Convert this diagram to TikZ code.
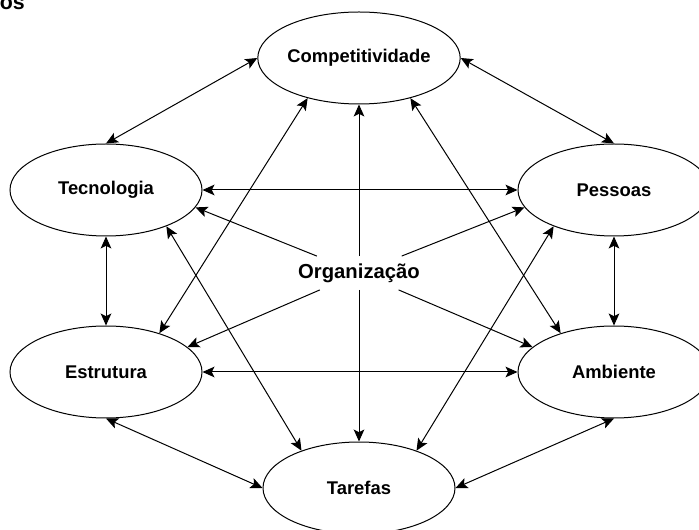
\documentclass[tikz,border=0pt]{standalone}
\usepackage{fontspec}
\setmainfont{Liberation Sans}
\usetikzlibrary{arrows.meta,shapes.geometric}

\begin{document}
\begin{tikzpicture}[x=0.75pt, y=-0.75pt,
  >={Stealth[length=9pt,width=8pt,inset=2pt]},
  elip/.style  ={draw, ellipse, line width=.75pt, minimum width=144pt,
                 minimum height=69pt, inner sep=0pt,
                 font=\fontsize{13.8}{16}\selectfont\bfseries},
  centro/.style={inner sep=2pt, minimum height=25pt,
                 font=\fontsize{15.2}{18}\selectfont\bfseries},
  lig/.style   ={<->, line width=.75pt},
  sai/.style   ={->, line width=.75pt}]

  \useasboundingbox (0,0) rectangle (699,530);

  % --- title fragment ----------------------------------------------------
  \node[anchor=base east, inner sep=0pt,
        font=\fontsize{16}{18}\selectfont\bfseries] (titulo) at (25, 10) {os};

  % --- factors -----------------------------------------------------------
  \node[elip] (comp) at (359,  58) {Competitividade};
  \node[elip] (tec)  at (106, 190) {Tecnologia};
  \node[elip] (pes)  at (614, 190) {Pessoas};
  \node[elip] (est)  at (106, 372) {Estrutura};
  \node[elip] (amb)  at (614, 372) {Ambiente};
  \node[elip] (tar)  at (359, 488) {Tarefas};

  % --- centre ------------------------------------------------------------
  \node[centro] (org) at (359, 273) {Organização};

  % --- outer ring --------------------------------------------------------
  \draw[lig] (comp.west) -- (tec.north);
  \draw[lig] (comp.east) -- (pes.north);
  \draw[lig] (tec.south) -- (est.north);
  \draw[lig] (pes.south) -- (amb.north);
  \draw[lig] (est.south) -- (tar.west);
  \draw[lig] (amb.south) -- (tar.east);
  \draw[lig] (tec.east)  -- (pes.west);
  \draw[lig] (est.east)  -- (amb.west);

  % --- diagonals ---------------------------------------------------------
  \draw[lig] (comp.218) -- (est.36);
  \draw[lig] (comp.-38) -- (amb.144);
  \draw[lig] (tec.-31)  -- (tar.147);
  \draw[lig] (pes.-149) -- (tar.33);

  % --- from the centre ---------------------------------------------------
  \draw[sai] (org) -- (tec.-11);
  \draw[sai] (org) -- (pes.-169);
  \draw[sai] (org) -- (est.17);
  \draw[sai] (org) -- (amb.163);
  \draw[sai] (org) -- (comp.south);
  \draw[sai] (org) -- (tar.north);
\end{tikzpicture}
\end{document}
